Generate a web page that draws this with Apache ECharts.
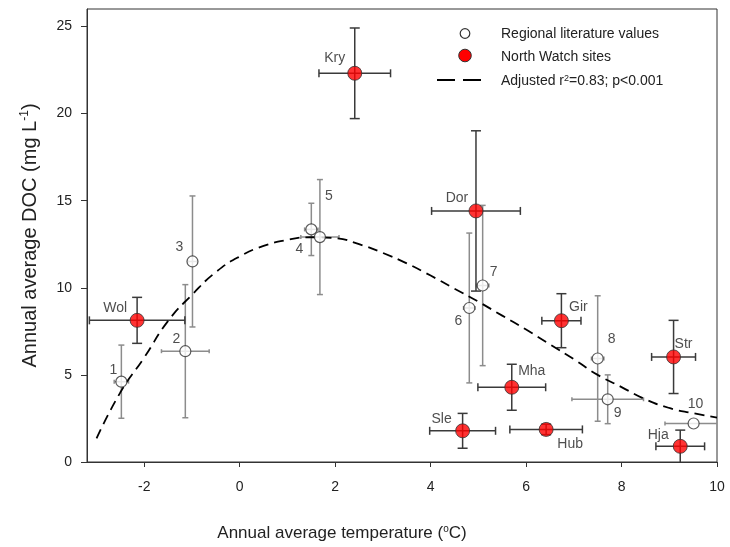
<!DOCTYPE html>
<html>
<head>
<meta charset="utf-8">
<script src="https://cdn.jsdelivr.net/npm/echarts@6/dist/echarts.min.js"></script>
<style>
html,body{margin:0;padding:0;background:#fff;}
#c{width:730px;height:547px;}
</style>
</head>
<body>
<div id="c"></div>
<script>
// ---- data ----
const litNames = ['1','2','3','4','5','6','7','8','9','10'];
const litX     = [-2.48, -1.14, -0.99, 1.50, 1.68, 4.81, 5.09, 7.50, 7.71, 9.51];
const litY     = [4.61, 6.36, 11.51, 13.35, 12.91, 8.84, 10.13, 5.94, 3.60, 2.21];
const litXErr  = [0.15, 0.50, 0.10, 0.14, 0.40, 0.12, 0.13, 0.13, 0.75, 0.60];
const litYErr  = [2.10, 3.82, 3.76, 1.50, 3.30, 4.30, 4.60, 3.60, 1.40, 0];

const nwNames = ['Wol','Kry','Dor','Gir','Mha','Sle','Hub','Str','Hja'];
const nwX     = [-2.15, 2.41, 4.95, 6.74, 5.70, 4.67, 6.42, 9.09, 9.23];
const nwY     = [8.13, 22.31, 14.41, 8.11, 4.29, 1.79, 1.87, 6.03, 0.90];
const nwXErr  = [1.00, 0.75, 0.93, 0.41, 0.71, 0.69, 0.76, 0.46, 0.51];
const nwYErr  = [1.32, 2.60, 4.60, 1.55, 1.32, 1.00, 0.30, 2.10, 0.93];

const fitX = [-3.0,-2.5,-2.0,-1.5,-1.0,-0.5,0,0.5,1.0,1.5,2.0,2.5,3.0,3.5,4.0,4.5,5.0,5.5,6.0,6.5,7.0,7.5,8.0,8.5,9.0,9.5,10.0];
const fitY = [1.35,4.0,6.0,8.1,9.6,10.9,11.8,12.4,12.75,12.9,12.85,12.5,12.0,11.4,10.7,9.95,9.2,8.4,7.6,6.75,5.9,5.0,4.3,3.6,3.1,2.8,2.55];

const xTicks = [-2, 0, 2, 4, 6, 8, 10];
const yTicks = [0, 5, 10, 15, 20, 25];

const legendLabels = ['Regional literature values', 'North Watch sites', '{a|Adjusted r}{s|2}{a|=0.83; p<0.001}'];

// ---- label placement (style) ----
const labelOffset = {
  '1':[-8,-12],'2':[-9,-12],'3':[-13,-14],'4':[-12,20],'5':[9,-41],
  '6':[-11,13],'7':[11,-13],'8':[14,-19],'9':[10,14],'10':[2,-19],
  'Wol':[-22,-12],'Kry':[-20,-15],'Dor':[-19,-13],'Gir':[17,-14],'Mha':[20,-16],
  'Sle':[-21,-12],'Hub':[24,15],'Str':[10,-13],'Hja':[-22,-11]
};

const FONT = 'Liberation Sans, Arial, sans-serif';
const TXT = '#222';
const XMIN = -3.2, XMAX = 10, YMIN = 0, YMAX = 26;

function errData(xs, ys, exs, eys){
  return xs.map((x,i)=>[x, ys[i], exs[i], eys[i]]);
}
function makeErrRender(color, capY, capX){
  return function(params, api){
    const x = api.value(0), y = api.value(1), ex = api.value(2), ey = api.value(3);
    const children = [];
    const st = {stroke: color, lineWidth: 1.5};
    if (ey > 0){
      const top = Math.min(YMAX, y+ey), bot = Math.max(YMIN, y-ey);
      const t = api.coord([x, top]), b = api.coord([x, bot]);
      children.push({type:'line', shape:{x1:t[0],y1:t[1],x2:b[0],y2:b[1]}, style:st});
      if (top === y+ey) children.push({type:'line', shape:{x1:t[0]-capY,y1:t[1],x2:t[0]+capY,y2:t[1]}, style:st});
      if (bot === y-ey) children.push({type:'line', shape:{x1:b[0]-capY,y1:b[1],x2:b[0]+capY,y2:b[1]}, style:st});
    }
    if (ex > 0){
      const lft = Math.max(XMIN, x-ex), rgt = Math.min(XMAX, x+ex);
      const l = api.coord([lft, y]), r = api.coord([rgt, y]);
      children.push({type:'line', shape:{x1:l[0],y1:l[1],x2:r[0],y2:r[1]}, style:st});
      if (lft === x-ex) children.push({type:'line', shape:{x1:l[0],y1:l[1]-capX,x2:l[0],y2:l[1]+capX}, style:st});
      if (rgt === x+ex) children.push({type:'line', shape:{x1:r[0],y1:r[1]-capX,x2:r[0],y2:r[1]+capX}, style:st});
    }
    return {type:'group', children};
  };
}
function pts(names, xs, ys){
  return names.map((n,i)=>({
    name: n, value:[xs[i], ys[i]],
    label:{offset: labelOffset[n]}
  }));
}

const legendTextStyle = (txt, y) => ({
  type:'text', left:501, top:y-6,
  style:{text:txt, font:'14px ' + FONT, fill:TXT,
    rich:{a:{fontSize:14, fontFamily:FONT, fill:TXT}, s:{fontSize:9, fontFamily:FONT, fill:TXT, verticalAlign:'top', lineHeight:14}}}
});

const chart = echarts.init(document.getElementById('c'), null, {renderer:'canvas'});
chart.setOption({
  animation:false,
  backgroundColor:'#fff',
  textStyle:{fontFamily:FONT},
  grid:{left:87, right:13, top:9, bottom:85, show:true, borderColor:'#333', borderWidth:1, backgroundColor:'transparent'},
  graphic:[
    {type:'circle', shape:{cx:465, cy:33.5, r:4.8}, style:{fill:'#fff', stroke:'#333', lineWidth:1.2}, z:10},
    {type:'circle', shape:{cx:465, cy:55.5, r:6.3}, style:{fill:'#ff0000', stroke:'#333', lineWidth:1}, z:10},
    {type:'line', shape:{x1:437, y1:80, x2:482, y2:80}, style:{stroke:'#000', lineWidth:2, lineDash:[18,8]}, z:10},
    legendTextStyle(legendLabels[0], 33),
    legendTextStyle(legendLabels[1], 56),
    legendTextStyle(legendLabels[2], 80)
  ],
  xAxis:{
    type:'value', min:XMIN, max:XMAX,
    name:'Annual average temperature ({s|o}C)', nameLocation:'middle', nameGap:62,
    nameTextStyle:{fontFamily:FONT, fontSize:17, color:TXT, padding:[0,120,0,0],
      rich:{s:{fontSize:10, verticalAlign:'top', lineHeight:18, color:TXT, fontFamily:FONT}}},
    axisLine:{show:true, onZero:false, lineStyle:{color:'#333', width:1}},
    axisTick:{show:true, length:5, customValues:xTicks, lineStyle:{color:'#333'}},
    axisLabel:{customValues:xTicks, margin:18, fontSize:14, color:TXT, fontFamily:FONT},
    splitLine:{show:false}
  },
  yAxis:{
    type:'value', min:YMIN, max:YMAX,
    name:'Annual average DOC (mg L{s|-1})', nameLocation:'middle', nameGap:46,
    nameTextStyle:{fontFamily:FONT, fontSize:20, color:TXT,
      rich:{s:{fontSize:12, verticalAlign:'top', lineHeight:22, color:TXT, fontFamily:FONT}}},
    axisLine:{show:true, onZero:false, lineStyle:{color:'#333', width:1}},
    axisTick:{show:true, length:6, customValues:yTicks, lineStyle:{color:'#333'}},
    axisLabel:{customValues:yTicks, margin:15, fontSize:14, color:TXT, fontFamily:FONT},
    splitLine:{show:false}
  },
  series:[
    {type:'custom', name:'litErr', silent:true, z:2, renderItem:makeErrRender('#8c8c8c', 3, 2),
     data: errData(litX, litY, litXErr, litYErr)},
    {type:'custom', name:'nwErr', silent:true, z:2, renderItem:makeErrRender('#3a3a3a', 5, 4),
     data: errData(nwX, nwY, nwXErr, nwYErr)},
    {type:'line', name:'Adjusted fit', z:3, symbol:'none', smooth:true,
     lineStyle:{color:'#000', width:1.8, type:[10,6]},
     data: fitX.map((x,i)=>[x, fitY[i]])},
    {type:'scatter', name:'Regional literature values', z:4, symbol:'circle', symbolSize:11,
     itemStyle:{color:'#fff', borderColor:'#333', borderWidth:1.2},
     label:{show:true, position:'inside', formatter:'{b}', fontFamily:FONT, fontSize:14, color:'#222'},
     data: pts(litNames, litX, litY)},
    {type:'scatter', name:'North Watch sites', z:4, symbol:'circle', symbolSize:14,
     itemStyle:{color:'#ff0000', borderColor:'#333', borderWidth:1},
     label:{show:true, position:'inside', formatter:'{b}', fontFamily:FONT, fontSize:14, color:'#222'},
     data: pts(nwNames, nwX, nwY)}
  ]
});
</script>
</body>
</html>
